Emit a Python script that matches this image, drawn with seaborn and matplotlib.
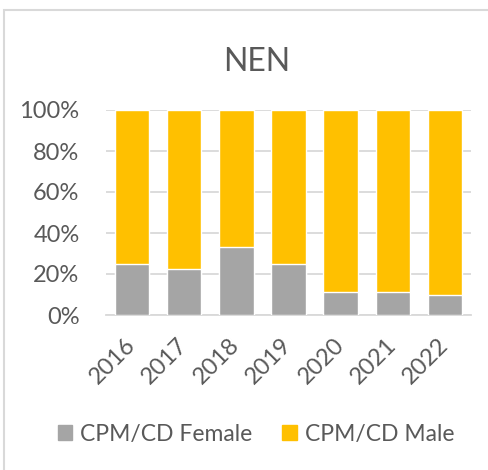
import matplotlib
matplotlib.use('Agg')
import matplotlib.pyplot as plt
import matplotlib.patches as mpatches
import seaborn as sns
import pandas as pd

# data (share of CPM/CD, in %)
years = ['2016', '2017', '2018', '2019', '2020', '2021', '2022']
female = [25.0, 22.2, 33.3, 25.0, 11.1, 11.1, 10.0]
male = [75.0, 77.8, 66.7, 75.0, 88.9, 88.9, 90.0]
y_ticks = [0, 20, 40, 60, 80, 100]

grey = '#A5A5A5'
yellow = '#FFC000'
text_col = '#595959'
grid_col = '#D9D9D9'

sns.set_style('white')
plt.rcParams['font.family'] = ['Lato', 'DejaVu Sans']

df = pd.DataFrame({'year': years, 'female': female, 'male': male})
df['total'] = df['female'] + df['male']

fig = plt.figure(figsize=(4.88, 4.70), dpi=100)
ax = fig.add_axes([106 / 488, 1 - 315 / 470, 365 / 488, 205 / 470])

# stacked: full bar in yellow, female share on top in grey
sns.barplot(data=df, x='year', y='total', color=yellow, width=0.66,
            saturation=1, ax=ax, zorder=2)
sns.barplot(data=df, x='year', y='female', color=grey, width=0.66,
            saturation=1, ax=ax, zorder=3)

ax.set_xlim(-0.5, len(years) - 0.5)
ax.set_ylim(0, 100)
ax.set_yticks(y_ticks)
ax.set_yticklabels([f'{t}%' for t in y_ticks])
ax.set_xlabel('')
ax.set_ylabel('')
ax.yaxis.grid(True, color=grid_col, lw=1.3, zorder=0)
ax.set_axisbelow(True)
for s in ['top', 'right', 'left']:
    ax.spines[s].set_visible(False)
ax.spines['bottom'].set_color(grid_col)
ax.spines['bottom'].set_linewidth(1.3)
ax.tick_params(axis='y', length=0, pad=19, labelsize=17, labelcolor=text_col)
ax.tick_params(axis='x', length=0, pad=19, labelsize=17, labelcolor=text_col)
for lab in ax.get_xticklabels():
    lab.set_rotation(45)
    lab.set_ha('right')
    lab.set_va('center')
    lab.set_rotation_mode('anchor')

fig.text(0.527, 1 - 62 / 470, 'NEN', ha='center', va='center',
         fontsize=23, color=text_col)

# chart frame
frame = mpatches.Rectangle((3.5 / 488, -0.1), 1.2, 1.1 - 10 / 470,
                           transform=fig.transFigure, fill=False,
                           edgecolor=grid_col, lw=1.5)
fig.patches.append(frame)

handles = [mpatches.Patch(color=grey, label='CPM/CD Female'),
           mpatches.Patch(color=yellow, label='CPM/CD Male')]
leg = fig.legend(handles=handles, loc='center', bbox_to_anchor=(0.525, 1 - 434 / 470),
                 ncol=2, frameon=False, fontsize=16.5, handlelength=0.65,
                 handleheight=0.65, handletextpad=0.35, columnspacing=1.3)
for t in leg.get_texts():
    t.set_color(text_col)

fig.savefig('out.png', dpi=100)
